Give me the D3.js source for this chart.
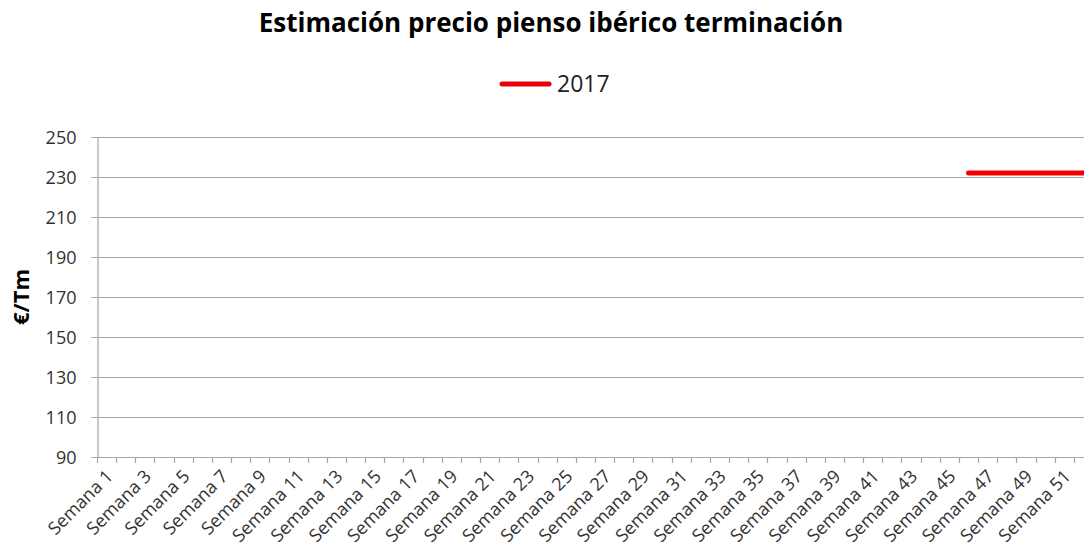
<!DOCTYPE html>
<html>
<head>
<meta charset="utf-8">
<script src="https://cdn.jsdelivr.net/npm/d3@7"></script>
<style>
  body { margin: 0; background: #fff; }
  svg text { font-family: "Open Sans", "Noto Sans", sans-serif; fill: #404040; }
</style>
</head>
<body>
<svg id="chart" width="1084" height="553"></svg>
<script>
// semanas 1..52
var weeks = [];
for (var i = 1; i <= 52; i++) weeks.push("Semana " + i);

// solo hay datos a partir de la semana 46
var series2017 = [
  null, null, null, null, null, null, null, null, null, null,
  null, null, null, null, null, null, null, null, null, null,
  null, null, null, null, null, null, null, null, null, null,
  null, null, null, null, null, null, null, null, null, null,
  null, null, null, null, null, 232, 232, 232, 232, 232, 232, 232
];

var yTicks = [90, 110, 130, 150, 170, 190, 210, 230, 250];

var svg = d3.select("#chart"),
    width = +svg.attr("width"),
    height = +svg.attr("height");

var mLeft = 97, mTop = 137, mBottom = 457, mRight = 1093;

var x = d3.scaleBand().domain(weeks).range([mLeft, mRight]);
var y = d3.scaleLinear().domain([90, 250]).range([mBottom, mTop]);

// title
svg.append("text")
    .attr("x", 551).attr("y", 32)
    .attr("text-anchor", "middle")
    .style("font-size", "26px").style("font-weight", "bold")
    .style("fill", "#000")
    .text("Estimación precio pienso ibérico terminación");

// legend
svg.append("line")
    .attr("x1", 502).attr("x2", 549).attr("y1", 84).attr("y2", 84)
    .attr("stroke", "#e8000b").attr("stroke-width", 5)
    .attr("stroke-linecap", "round");
svg.append("text")
    .attr("x", 557).attr("y", 92)
    .style("font-size", "23px").style("fill", "#222")
    .text("2017");

// grid
svg.append("g")
    .selectAll("line")
    .data(yTicks)
    .enter().append("line")
    .attr("x1", mLeft - 6).attr("x2", width)
    .attr("y1", function(d) { return Math.round(y(d)) + 0.5; })
    .attr("y2", function(d) { return Math.round(y(d)) + 0.5; })
    .attr("stroke", "#a6a6a6").attr("stroke-width", 1.2);

// y axis
var yAxis = svg.append("g")
    .attr("transform", "translate(" + (mLeft + 0.5) + ",0)")
    .call(d3.axisLeft(y).tickValues(yTicks).tickSize(0).tickPadding(21));
yAxis.select(".domain").attr("stroke", "#a6a6a6").attr("stroke-width", 1.2);
yAxis.selectAll("text").style("font-size", "18px").style("fill", "#333")
    .attr("dy", "0.35em");

// x axis line + ticks between categories
var xg = svg.append("g");
xg.append("line")
    .attr("x1", mLeft).attr("x2", width)
    .attr("y1", mBottom + 0.5).attr("y2", mBottom + 0.5)
    .attr("stroke", "#a6a6a6").attr("stroke-width", 1.2);
xg.selectAll("line.tk")
    .data(weeks)
    .enter().append("line")
    .attr("class", "tk")
    .attr("x1", function(d) { return Math.round(x(d)) + 0.5; })
    .attr("x2", function(d) { return Math.round(x(d)) + 0.5; })
    .attr("y1", mBottom).attr("y2", mBottom + 6)
    .attr("stroke", "#a6a6a6").attr("stroke-width", 1.2);

xg.selectAll("text")
    .data(weeks.filter(function(d, i) { return i % 2 === 0; }))
    .enter().append("text")
    .attr("transform", function(d) {
      return "translate(" + (x(d) + x.bandwidth() / 2 + 3) + "," + (mBottom + 16) + ") rotate(-45)";
    })
    .attr("text-anchor", "end")
    .attr("dy", "0.35em")
    .style("font-size", "18px").style("fill", "#333")
    .text(function(d) { return d; });

// y label
svg.append("text")
    .attr("transform", "translate(29," + ((mTop + mBottom) / 2) + ") rotate(-90)")
    .attr("text-anchor", "middle")
    .style("font-size", "22px").style("font-weight", "bold").style("fill", "#000")
    .text("€/Tm");

// line
var line = d3.line()
    .defined(function(d) { return d != null; })
    .x(function(d, i) { return x(weeks[i]) + x.bandwidth() / 2; })
    .y(function(d) { return y(d); });

svg.append("path")
    .datum(series2017)
    .attr("fill", "none")
    .attr("stroke", "#f00000")
    .attr("stroke-width", 5)
    .attr("stroke-linecap", "round")
    .attr("d", line);
</script>
</body>
</html>
